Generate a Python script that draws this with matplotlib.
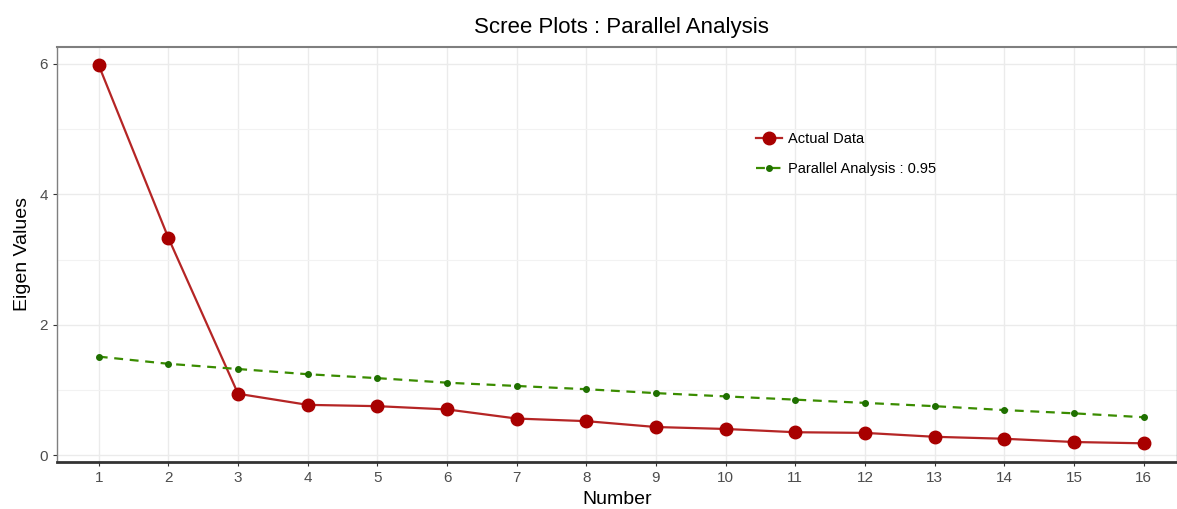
import numpy as np
import matplotlib.pyplot as plt
from matplotlib.ticker import MultipleLocator

number = list(range(1, 17))
actual = [5.98, 3.33, 0.94, 0.77, 0.75, 0.70, 0.56, 0.52, 0.43, 0.40, 0.35, 0.34, 0.28, 0.25, 0.20, 0.18]
parallel = [1.51, 1.40, 1.32, 1.24, 1.18, 1.11, 1.06, 1.01, 0.95, 0.90, 0.85, 0.80, 0.75, 0.69, 0.64, 0.58]

plt.rcParams['font.family'] = ['Liberation Sans', 'DejaVu Sans']

fig = plt.figure(figsize=(11.77, 5.09), dpi=100)
ax = fig.add_axes([0.0484, 0.0923, 0.9516, 0.8163])

ax.plot(number, actual, color="#b52525", lw=1.6, marker="o", ms=9,
        mfc="#a80000", mec="#a80000", label="Actual Data", zorder=3)
ax.plot(number, parallel, color="#3a8c00", lw=1.6, ls=(0, (4, 3)), marker="o", ms=4,
        mfc="#1f7000", mec="#1f7000", label="Parallel Analysis : 0.95", zorder=3)

ax.set_xlim(0.40, 16.48)
ax.set_ylim(-0.107, 6.268)
ax.set_xticks(number)
ax.yaxis.set_major_locator(MultipleLocator(2))
ax.yaxis.set_minor_locator(MultipleLocator(1))
ax.grid(True, which="major", color="#ebebeb", lw=1.0)
ax.grid(True, which="minor", axis="y", color="#f2f2f2", lw=0.8)
ax.set_axisbelow(True)

ax.tick_params(axis="both", which="major", labelsize=11, labelcolor="#4d4d4d",
               color="#333333", length=3, width=0.8)
ax.tick_params(axis="y", which="minor", length=0)

for side in ["top", "left", "right"]:
    ax.spines[side].set_color("#7f7f7f")
    ax.spines[side].set_linewidth(1.0)
ax.spines["top"].set_linewidth(1.5)
ax.spines["bottom"].set_color("#333333")
ax.spines["bottom"].set_linewidth(2.0)

ax.set_xlabel("Number", fontsize=14, labelpad=4)
ax.set_ylabel("Eigen Values", fontsize=14, labelpad=6)
fig.text(0.528, 0.946, "Scree Plots : Parallel Analysis", fontsize=16, ha="center", va="center")

ax.legend(loc="upper left", bbox_to_anchor=(0.612, 0.825), frameon=False, fontsize=10.5,
          handlelength=1.8, handletextpad=0.4, labelspacing=1.1)

fig.savefig("out.png", dpi=100)
